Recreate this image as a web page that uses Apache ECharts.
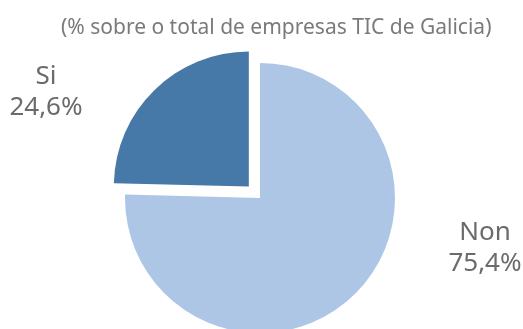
<!DOCTYPE html>
<html>
<head>
<meta charset="utf-8">
<script src="https://cdn.jsdelivr.net/npm/echarts@6/dist/echarts.min.js"></script>
<style>
  html, body { margin: 0; padding: 0; background: #fff; }
  #chart { width: 523px; height: 329px; }
</style>
</head>
<body>
<div id="chart"></div>
<script>
// Share of Galician ICT companies (percent)
const categories = ['Non', 'Si'];
const values = [75.4, 24.6];
const sliceColors = ['#aec6e6', '#4678a8'];
const subtitle = '(% sobre o total de empresas TIC de Galicia)';

// Label anchor points (centre of each two-line label)
const labelAnchors = { Non: [485, 248], Si: [46, 92] };

const pieCenter = [260, 198];
const pieRadius = 135;
const explodeName = 'Si';
const explodeDist = 16;

const chart = echarts.init(document.getElementById('chart'), null, { renderer: 'canvas' });

const fmt = v => v.toFixed(1).replace('.', ',') + '%';

// Pulled-out slice: shift the whole pie along the slice's bisector
const total = values.reduce((a, b) => a + b, 0);
let acc = 0, midFrac = 0;
categories.forEach((c, i) => {
  if (c === explodeName) midFrac = (acc + values[i] / 2) / total;
  acc += values[i];
});
const midAng = midFrac * 2 * Math.PI; // clockwise from 12 o'clock
const explodedCenter = [
  pieCenter[0] + explodeDist * Math.sin(midAng),
  pieCenter[1] - explodeDist * Math.cos(midAng)
];

const pieData = showName => categories.map((name, i) => ({
  name,
  value: values[i],
  itemStyle: { color: name === showName ? sliceColors[i] : 'rgba(0,0,0,0)' }
}));

chart.setOption({
  animation: false,
  title: {
    text: subtitle,
    left: 56,
    top: 13,
    textStyle: {
      fontFamily: 'Noto Sans',
      fontWeight: 'normal',
      fontSize: 21,
      color: '#7a7a7a'
    }
  },
  series: [
    {
      // Main body of the pie, with both labels
      type: 'pie',
      center: pieCenter,
      radius: pieRadius,
      startAngle: 90,
      clockwise: true,
      silent: true,
      avoidLabelOverlap: false,
      data: pieData('Non'),
      label: {
        show: true,
        position: 'outside',
        alignTo: 'none',
        formatter: p => p.name + '\n' + fmt(p.value),
        fontFamily: 'Noto Sans',
        fontSize: 26,
        lineHeight: 31,
        color: '#6b6b6b'
      },
      labelLine: { show: false },
      labelLayout: params => {
        const name = categories[params.dataIndex];
        const [x, y] = labelAnchors[name];
        return { x, y, align: 'center', verticalAlign: 'middle' };
      }
    },
    {
      // Pulled-out "Si" slice
      type: 'pie',
      center: explodedCenter,
      radius: pieRadius,
      startAngle: 90,
      clockwise: true,
      silent: true,
      data: pieData(explodeName),
      label: { show: false },
      labelLine: { show: false }
    }
  ]
});
</script>
</body>
</html>
